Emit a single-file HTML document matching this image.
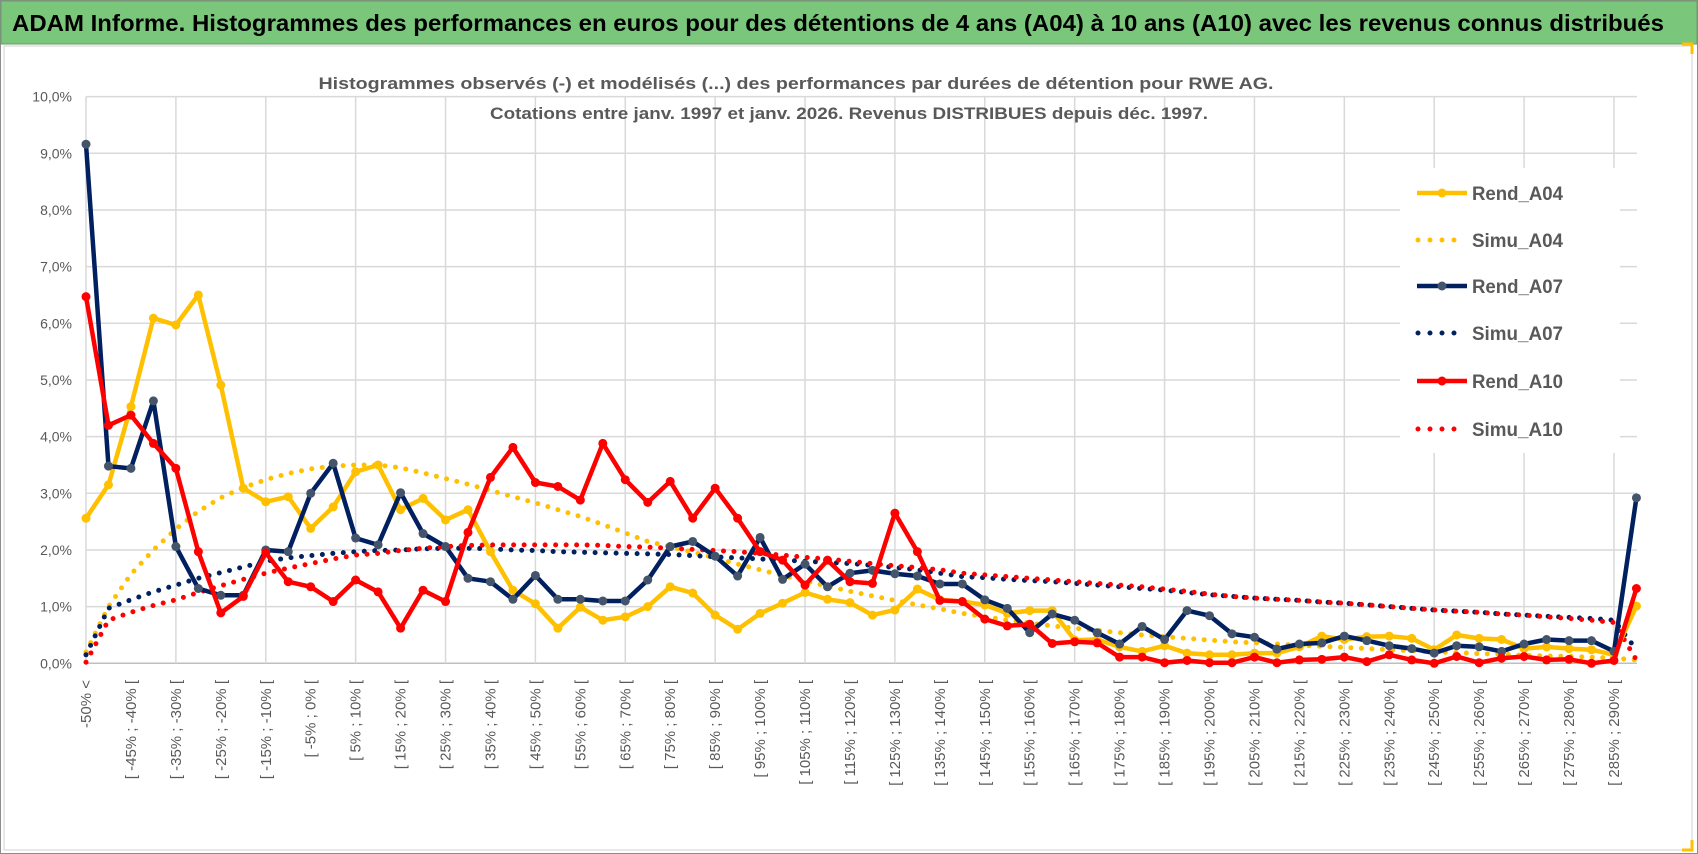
<!DOCTYPE html>
<html><head><meta charset="utf-8"><style>
html,body{margin:0;padding:0;background:#fff;}
svg{display:block;font-family:"Liberation Sans",sans-serif;}
</style></head><body>
<svg id="chart" width="1698" height="854" viewBox="0 0 1698 854">
  <rect x="0.5" y="0.5" width="1697" height="853" fill="#fff" stroke="#8c8c8c"/>
  <rect x="1" y="1" width="1696" height="43" fill="#7ac77c" stroke="#6a9a6a"/>
  <text x="12" y="31" font-size="23" font-weight="bold" fill="#000" textLength="1652" lengthAdjust="spacingAndGlyphs">ADAM Informe. Histogrammes des performances en euros pour des détentions de 4 ans (A04) à 10 ans (A10) avec les revenus connus distribués</text>
  <rect x="4" y="46" width="1688" height="804" fill="#fff" stroke="#d0d0d0"/>
  <path d="M1682 44 h10 v10 M1682 850 h10 v-10" fill="none" stroke="#ffc000" stroke-width="3"/>
  <g id="grid"></g>
  <g id="yaxis"></g>
  <g id="xaxis"></g>
  <rect x="1400" y="168" width="220" height="285" fill="#fff"/>
  <g id="series"></g>
  <text x="796" y="89" font-size="17" font-weight="bold" fill="#595959" text-anchor="middle" textLength="955" lengthAdjust="spacingAndGlyphs">Histogrammes observés (-) et modélisés (...) des performances par durées de détention pour RWE AG.</text>
  <text x="849" y="119" font-size="17" font-weight="bold" fill="#595959" text-anchor="middle" textLength="718" lengthAdjust="spacingAndGlyphs">Cotations entre janv. 1997 et janv. 2026. Revenus DISTRIBUES depuis déc. 1997.</text>
  <g id="legend"></g>
</svg>
<script>
const rendA04 = [2.56,3.15,4.53,6.09,5.97,6.5,4.91,3.09,2.85,2.94,2.38,2.76,3.38,
3.5,2.71,2.91,2.53,2.71,1.97,1.29,1.05,0.62,0.99,0.76,0.82,1.0,
1.35,1.24,0.85,0.6,0.88,1.06,1.25,1.13,1.07,0.85,0.94,1.31,1.12,
1.09,1.03,0.88,0.93,0.93,0.41,0.42,0.29,0.21,0.31,0.18,0.15,0.15,
0.18,0.18,0.29,0.48,0.42,0.47,0.48,0.44,0.24,0.5,0.44,0.42,0.26,
0.29,0.26,0.24,0.15,1.01];
const rendA07 = [9.16,3.48,3.44,4.63,2.06,1.32,1.2,1.2,2.0,1.97,3.0,3.53,2.21,
2.09,3.01,2.29,2.06,1.5,1.44,1.13,1.55,1.13,1.13,1.1,1.1,1.47,
2.06,2.15,1.89,1.54,2.22,1.48,1.75,1.35,1.59,1.64,1.58,1.54,1.4,
1.4,1.12,0.97,0.54,0.87,0.76,0.54,0.34,0.65,0.42,0.93,0.84,0.52,
0.46,0.25,0.34,0.36,0.48,0.4,0.31,0.26,0.18,0.31,0.29,0.21,0.34,
0.42,0.4,0.4,0.21,2.92];
const rendA10 = [6.47,4.2,4.38,3.88,3.44,1.97,0.89,1.18,1.95,1.44,1.35,1.09,1.47,
1.26,0.62,1.29,1.09,2.31,3.28,3.81,3.19,3.12,2.88,3.88,3.24,2.84,
3.21,2.56,3.09,2.56,1.97,1.82,1.38,1.82,1.44,1.41,2.65,1.97,1.11,
1.09,0.78,0.66,0.69,0.35,0.38,0.36,0.11,0.11,0.01,0.05,0.01,0.01,
0.11,0.01,0.06,0.07,0.11,0.03,0.15,0.06,0.0,0.12,0.01,0.09,0.12,
0.06,0.07,0.0,0.05,1.32];
const simuA04 = [0.2,1.0,1.57,2.0,2.37,2.68,2.92,3.1,3.24,3.35,3.43,3.48,3.5,3.5,3.45,3.36,3.26,3.16,3.05,2.94,
2.83,2.71,2.59,2.45,2.3,2.15,2.06,1.96,1.86,1.75,1.65,1.55,1.45,1.36,1.27,1.19,1.11,1.03,0.96,0.88,
0.82,0.76,0.71,0.66,0.62,0.58,0.54,0.5,0.47,0.44,0.41,0.38,0.36,0.34,0.32,0.3,0.28,0.26,0.24,0.22,
0.2,0.19,0.17,0.16,0.14,0.13,0.12,0.11,0.09,0.06];
const simuA07 = [0.15,0.97,1.12,1.26,1.38,1.5,1.6,1.7,1.8,1.86,1.9,1.94,1.97,1.99,2.0,2.02,2.03,2.03,2.02,2.0,
1.99,1.97,1.96,1.95,1.94,1.93,1.92,1.9,1.88,1.86,1.84,1.82,1.8,1.78,1.76,1.73,1.69,1.65,1.59,1.53,
1.51,1.48,1.46,1.44,1.41,1.38,1.35,1.32,1.29,1.25,1.21,1.18,1.15,1.13,1.11,1.08,1.06,1.03,1.0,0.97,
0.94,0.92,0.9,0.87,0.85,0.83,0.81,0.79,0.76,0.24];
const simuA10 = [0.02,0.76,0.9,1.02,1.12,1.25,1.37,1.48,1.59,1.68,1.76,1.84,1.91,1.94,1.99,2.03,2.06,2.08,2.09,2.09,
2.09,2.09,2.09,2.08,2.06,2.05,2.03,2.01,1.99,1.97,1.94,1.91,1.87,1.84,1.8,1.76,1.72,1.69,1.65,1.59,
1.56,1.53,1.5,1.47,1.44,1.41,1.38,1.35,1.31,1.27,1.22,1.18,1.15,1.13,1.11,1.08,1.06,1.03,1.0,0.97,
0.94,0.92,0.9,0.87,0.85,0.82,0.79,0.76,0.72,0.06];
const yTicks = [0,1,2,3,4,5,6,7,8,9,10];
const seriesNames = ["Rend_A04","Simu_A04","Rend_A07","Simu_A07","Rend_A10","Simu_A10"];

const NS = "http://www.w3.org/2000/svg";
const N = rendA04.length;
const categories = [];
for (let k = 0; k < N; k++) {
  if (k === 0) categories.push("-50% <");
  else if (k === N - 1) categories.push("> 290%");
  else categories.push("[ " + (-55 + 5 * k) + "% ; " + (-50 + 5 * k) + "% [");
}
const X0 = 86, STEP = 22.47, Y0 = 663.3, YPX = 56.67, XR = 1637;
const xPos = k => X0 + STEP * k;
const yPos = v => Y0 - v * YPX;
function mk(tag, attrs, parent) {
  const e = document.createElementNS(NS, tag);
  for (const a in attrs) e.setAttribute(a, attrs[a]);
  parent.appendChild(e);
  return e;
}
const grid = document.getElementById("grid");
const yaxis = document.getElementById("yaxis");
yTicks.forEach(t => {
  const l = mk("line", {x1: X0, x2: XR, y1: yPos(t), y2: yPos(t), stroke: t === 0 ? "#bfbfbf" : "#d9d9d9", "stroke-width": 1.5}, grid);
  
  
  const tx = mk("text", {x: 72, y: yPos(t) + 5, "font-size": 14, fill: "#595959", "text-anchor": "end"}, yaxis);
  tx.textContent = t.toFixed(1).replace(".", ",") + "%";
  
  
});
for (let k = 0; k < N - 1; k += 4) {
  const l = mk("line", {x1: xPos(k), x2: xPos(k), y1: yPos(10), y2: yPos(0), stroke: "#d9d9d9", "stroke-width": 1.5}, grid);
  
  
}
const xaxis = document.getElementById("xaxis");
for (let k = 0; k < N; k += 2) {
  if (k === N - 1) continue;
  const x = xPos(k) + 5, y = 680;
  const tx = mk("text", {x: x, y: y, "font-size": 15, fill: "#595959", "text-anchor": "end", transform: "rotate(-90 " + x + " " + y + ")"}, xaxis);
  tx.textContent = categories[k];
  
  
}
const series = document.getElementById("series");
function pathOf(arr) { return arr.map((v, k) => (k ? "L" : "M") + xPos(k).toFixed(1) + " " + yPos(v).toFixed(1)).join(" "); }
function dotted(arr, color, name) {
  const p = mk("path", {d: pathOf(arr), fill: "none", stroke: color, "stroke-width": 5, "stroke-linecap": "round", "stroke-dasharray": "0 10.5"}, series);
  
  
}
function solid(arr, color, marker, name) {
  const g = mk("g", {}, series);
  
  
  mk("path", {d: pathOf(arr), fill: "none", stroke: color, "stroke-width": 4.5, "stroke-linejoin": "round"}, g);
  arr.forEach((v, k) => {
    const c = mk("circle", {cx: xPos(k), cy: yPos(v), r: 4.5, fill: marker}, g);
    
    
  });
}
dotted(simuA04, "#ffc000", "simu-a04-line");
dotted(simuA07, "#002060", "simu-a07-line");
dotted(simuA10, "#ff0000", "simu-a10-line");
solid(rendA04, "#ffc000", "#ffc000", "rend-a04-line");
solid(rendA07, "#002060", "#44546a", "rend-a07-line");
solid(rendA10, "#ff0000", "#ff0000", "rend-a10-line");

const legend = document.getElementById("legend");
const legColors = ["#ffc000","#ffc000","#002060","#002060","#ff0000","#ff0000"];
const legMarker = ["#ffc000",null,"#44546a",null,"#ff0000",null];
const legY = [193,240,286,333,381,429];
seriesNames.forEach((nm, i) => {
  const g = mk("g", {}, legend);
  
  
  const y = legY[i];
  if (legMarker[i]) {
    mk("line", {x1: 1417, x2: 1467, y1: y, y2: y, stroke: legColors[i], "stroke-width": 4.5}, g);
    mk("circle", {cx: 1442, cy: y, r: 4.5, fill: legMarker[i]}, g);
  } else {
    mk("line", {x1: 1418, x2: 1466, y1: y, y2: y, stroke: legColors[i], "stroke-width": 5, "stroke-linecap": "round", "stroke-dasharray": "0 12"}, g);
  }
  const t = mk("text", {x: 1472, y: y + 7, "font-size": 19, "font-weight": "bold", fill: "#595959", textLength: 91, lengthAdjust: "spacingAndGlyphs"}, g);
  t.textContent = nm;
});
</script>
</body></html>
